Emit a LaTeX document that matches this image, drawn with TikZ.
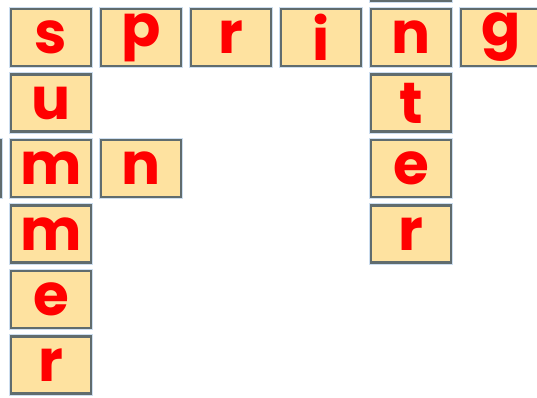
\documentclass[tikz,border=0pt]{standalone}
\usepackage{fontspec}
\setmainfont{Poppins}
\usepackage{xcolor}
\usepackage{tikz}
\definecolor{tilefill}{RGB}{254,226,160}
\definecolor{tileedge}{RGB}{96,108,110}
\definecolor{tileglow}{RGB}{205,222,240}
\definecolor{letterred}{RGB}{255,0,0}

\begin{document}
\begin{tikzpicture}[x=1pt,y=-1pt,
    tile/.style={draw=tileedge,line width=2.4pt,fill=tilefill,
      preaction={draw=tileglow,line width=4.8pt},
      minimum width=80pt,minimum height=57pt,inner sep=0pt,
      font=\fontsize{58}{58}\selectfont\bfseries,text=letterred}]
    \useasboundingbox (0,0) rectangle (537,398);
    \clip (0,0) rectangle (537,398);
    % spring, across the top
    \foreach \ch [count=\i from 0] in {s,p,r,i,n,g}
      \node[tile] (spring\i) at (51+90*\i,37.5) {\ch};
    % summer, down the left
    \foreach \ch [count=\i from 1] in {u,m,m,e,r}
      \node[tile] (summer\i) at (51,37.5+65.5*\i) {\ch};
    % winter, down from the n
    \foreach \ch [count=\i from 1] in {t,e,r}
      \node[tile] (winter\i) at (411,37.5+65.5*\i) {\ch};
    \node[tile] (winter0) at (411,-28) {};
    % autumn, across through the first m
    \node[tile] (autumnN) at (141,168.5) {n};
    \node[tile] (autumnU) at (-39,168.5) {};
  \end{tikzpicture}
\end{document}
